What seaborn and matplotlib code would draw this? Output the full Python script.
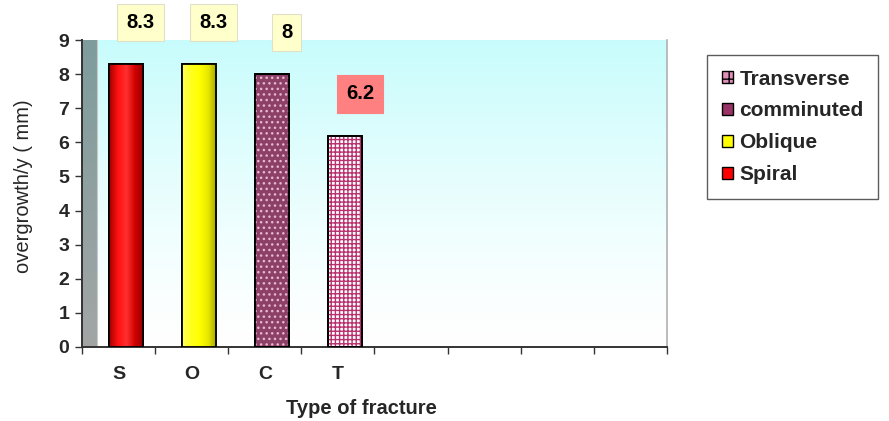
import numpy as np
import pandas as pd
import matplotlib
matplotlib.use("Agg")
import matplotlib.pyplot as plt
import seaborn as sns
from matplotlib.patches import Patch
from matplotlib.colors import LinearSegmentedColormap

# Fracture types and yearly overgrowth
codes = ["S", "O", "C", "T"]
names = ["Spiral", "Oblique", "comminuted", "Transverse"]
overgrowth = [8.3, 8.3, 8.0, 6.2]
n_slots = 8

face_colors = ["#FF0000", "#FFFF00", "#993366", "#FFFFFF"]
label_fills = ["#FFFFCC", "#FFFFCC", "#FFFFCC", "#FF8080"]

df = pd.DataFrame({"code": codes, "name": names, "value": overgrowth})

sns.set_theme(style="white")
plt.rcParams["font.family"] = ["Liberation Sans", "DejaVu Sans"]

fig = plt.figure(figsize=(8.89, 4.21), dpi=100)
ax = fig.add_axes([0.0922, 0.1758, 0.658, 0.729])

sns.barplot(data=df, x="code", y="value", hue="code", palette=face_colors,
            dodge=False, legend=False, width=0.47, edgecolor="black",
            linewidth=1.3, ax=ax, zorder=3)

ax.set_xlim(-0.5, n_slots - 0.5)
ax.set_ylim(0, 9)

# backdrop gradient: light cyan at the top fading to white
grad = np.linspace(0, 1, 256).reshape(-1, 1)
bg_cmap = LinearSegmentedColormap.from_list("bg", ["#FFFFFF", "#C8FCFC"])
ax.imshow(grad ** 1.3, extent=[-0.5, n_slots - 0.5, 0, 9], origin="lower",
          aspect="auto", cmap=bg_cmap, vmin=0, vmax=1, zorder=0)

# side wall strip
wall_cmap = LinearSegmentedColormap.from_list("wall", ["#A3A5A5", "#7E9C9C"])
ax.imshow(grad, extent=[-0.5, -0.3, 0, 9], origin="lower",
          aspect="auto", cmap=wall_cmap, zorder=1)
ax.axvline(-0.3, color="#C8C8C8", lw=0.8, zorder=1)

# shift bars a little towards the back plane and shade them
shade = {
    0: ["#A00000", "#FF1010", "#FF3030", "#D00000", "#900000"],
    1: ["#FFFF60", "#FFFF20", "#FFFF00", "#E8E800", "#A0A000"],
}
hgrad = np.linspace(0, 1, 256).reshape(1, -1)
for i, bar in enumerate(ax.patches):
    bar.set_x(bar.get_x() + 0.1)
    x0, w, h = bar.get_x(), bar.get_width(), bar.get_height()
    if i in shade:
        cm = LinearSegmentedColormap.from_list(f"s{i}", shade[i])
        im = ax.imshow(hgrad, extent=[x0, x0 + w, 0, h], aspect="auto",
                       cmap=cm, zorder=3.5)
        im.set_clip_path(bar)
    elif i == 2:
        ax.bar(x0 + w / 2, h, width=w, facecolor="none", edgecolor="#E8B8D0",
               hatch="...", linewidth=0, zorder=3.6)
    elif i == 3:
        ax.bar(x0 + w / 2, h, width=w, facecolor="none", edgecolor="#B8306E",
               hatch="++++", linewidth=0, zorder=3.6)
    ax.bar(x0 + w / 2, h, width=w, facecolor="none", edgecolor="black",
           linewidth=1.3, zorder=3.8)

# value labels in boxes above the bars
for i, (v, fill) in enumerate(zip(overgrowth, label_fills)):
    ax.text(i + 0.3, v + 1.22, f"{v:g}", ha="center", va="center",
            fontsize=14.5, fontweight="bold", color="black", zorder=5,
            clip_on=False,
            bbox=dict(boxstyle="square,pad=0.45", facecolor=fill,
                      edgecolor="#E0E0C8" if fill == "#FFFFCC" else fill,
                      linewidth=0.8))

# axes, ticks and labels
ax.set_yticks(range(0, 10))
ax.set_yticklabels([str(t) for t in range(0, 10)], fontsize=14, fontweight="bold")
ax.set_xticks(np.arange(-0.5, n_slots, 1.0))
ax.set_xticklabels([""] * (n_slots + 1))
ax.set_xticks(range(len(codes)), minor=True)
ax.set_xticklabels(codes, minor=True, fontsize=14, fontweight="bold")
ax.tick_params(axis="x", which="major", direction="out", length=5, width=1,
               color="#333333", bottom=True)
ax.tick_params(axis="x", which="minor", length=0, pad=14, bottom=True)
ax.tick_params(axis="y", direction="out", length=5, width=1, color="#333333",
               left=True, pad=4)

for side in ["left", "bottom"]:
    ax.spines[side].set_color("#333333")
    ax.spines[side].set_linewidth(1.4)
ax.spines["right"].set_color("#B0B0B0")
ax.spines["right"].set_linewidth(1.2)
ax.spines["top"].set_visible(False)

ax.set_xlabel("Type of fracture", fontsize=14.5, fontweight="bold", va="center")
ax.xaxis.set_label_coords(0.477, -0.202)
ax.set_ylabel("overgrowth/y ( mm)", fontsize=14.5)
ax.yaxis.set_label_coords(-0.083, 0.525)

# legend in reverse series order
handles = [Patch(facecolor=face_colors[i], edgecolor="black", label=names[i],
                 hatch="++" if i == 3 else None)
           for i in range(len(names) - 1, -1, -1)]
handles[0].set_facecolor("#E090B8")
leg = fig.legend(handles=handles, loc="upper left",
                 bbox_to_anchor=(707 / 889, 1 - 55 / 421),
                 frameon=True, fancybox=False, fontsize=15,
                 handlelength=0.55, handleheight=0.55, handletextpad=0.3,
                 labelspacing=0.62, borderpad=0.7, borderaxespad=0)
leg.get_frame().set_edgecolor("#333333")
leg.get_frame().set_linewidth(1.0)
for t in leg.get_texts():
    t.set_fontweight("bold")

fig.savefig("out.png", dpi=100)
